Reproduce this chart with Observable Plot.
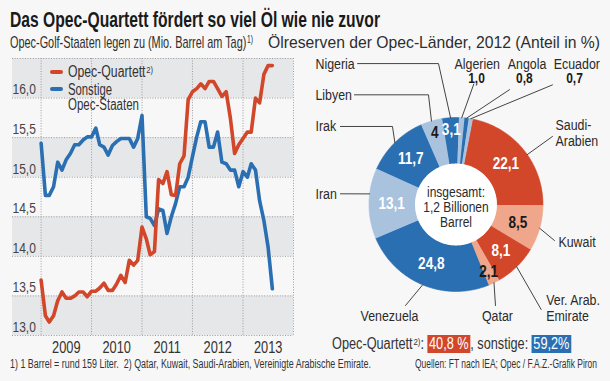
<!DOCTYPE html>
<html><head><meta charset="utf-8">
<script src="https://cdn.jsdelivr.net/npm/d3@7"></script>
<script src="https://cdn.jsdelivr.net/npm/@observablehq/plot@0.6"></script>
<style>
html,body{margin:0;padding:0;background:#f7f7f7;}
#wrap{position:relative;width:610px;height:381px;overflow:hidden;background:#f7f7f7;color:#222;
 font-family:"Liberation Sans",Arial,sans-serif;}
.t{position:absolute;white-space:nowrap;transform-origin:0 50%;line-height:1;}
.t sup{font-size:62%;vertical-align:0;position:relative;top:-0.45em;margin-left:1px;}
#lineChart{position:absolute;left:0;top:50px;}
#donut{position:absolute;left:300px;top:55px;}
.sw{position:absolute;height:4px;border-radius:2px;width:13px;}
.box{display:inline-block;color:#fff;padding:1px 2px 1px 2px;line-height:1;}
</style></head>
<body><div id="wrap">
<div class="t" id="title" data-w="370" style="left:10px;top:9px;font-size:22px;font-weight:bold;color:#1a1a1a">Das Opec-Quartett fördert so viel Öl wie nie zuvor</div>
<div class="t" data-w="243" style="left:10px;top:34px;font-size:17px;color:#2e2e2e">Opec-Golf-Staaten legen zu (Mio. Barrel am Tag)<sup>1)</sup></div>
<div class="t" data-w="332" style="left:268px;top:34px;font-size:17px;color:#2e2e2e">Ölreserven der Opec-Länder, 2012 (Anteil in %)</div>
<div id="lineChart"></div>
<div id="donut"></div>
<div class="sw" id="swRed" style="left:50px;top:70px;"></div>
<div class="sw" id="swBlue" style="left:50px;top:87px;"></div>
<div class="t" id="lgRed" data-w="85" style="left:68px;top:64px;font-size:16px;color:#333"></div>
<div class="t" id="lgBlue1" data-w="44" style="left:68px;top:82px;font-size:16px;color:#333"></div>
<div class="t" id="lgBlue2" data-w="71" style="left:68px;top:97px;font-size:16px;color:#333"></div>
<div class="t" id="shareLegend" data-w="239" style="left:332px;top:335px;font-size:16px;color:#333"></div>
<div class="t" data-w="361" style="left:10px;top:358px;font-size:12.5px;color:#333">1) 1 Barrel = rund 159 Liter.&nbsp; 2) Qatar, Kuwait, Saudi-Arabien, Vereinigte Arabische Emirate.</div>
<div class="t" data-w="182" style="left:415px;top:358px;font-size:12.5px;color:#333">Quellen: FT nach IEA; Opec / F.A.Z.-Grafik Piron</div>
</div>
<script>
// ---------------- DATA: line chart (monthly, Jan 2009 – Aug 2013, Mio. Barrel/Tag) ----------------
const firstMonth = "2009-01";
const years = [2009, 2010, 2011, 2012, 2013];
const yTicks = [13.0, 13.5, 14.0, 14.5, 15.0, 15.5, 16.0];
const seriesNames = ["Opec-Quartett", "Sonstige Opec-Staaten"];
const opecQuartett = [
  13.70, 13.25, 13.17, 13.25, 13.44, 13.55, 13.47, 13.47, 13.50, 13.55, 13.55, 13.49,
  13.56, 13.56, 13.60, 13.66, 13.57, 13.57, 13.65, 13.76, 13.67, 13.95, 13.89, 13.95,
  14.37, 14.22, 14.02, 14.06, 14.97, 14.92, 15.07, 14.78, 14.77, 15.17, 15.27, 15.98,
  16.08, 16.12, 16.18, 16.12, 16.21, 16.21, 16.12, 16.02, 16.08, 15.75, 15.30, 15.41,
  15.49, 15.57, 15.57, 16.00, 15.94, 16.30, 16.41, 16.41
];
const sonstigeOpec = [
  15.43, 14.77, 14.77, 14.88, 15.19, 15.09, 15.22, 15.30, 15.41, 15.41, 15.47, 15.51,
  15.51, 15.62, 15.41, 15.38, 15.28, 15.40, 15.45, 15.49, 15.49, 15.49, 15.38, 15.49,
  15.78, 14.50, 14.48, 14.39, 14.60, 14.58, 14.29, 14.50, 14.67, 14.88, 14.88, 15.00,
  15.26, 15.51, 15.70, 15.70, 15.38, 15.38, 15.57, 15.19, 15.17, 15.09, 15.09, 14.88,
  15.07, 15.00, 15.17, 15.09, 14.70, 14.45, 14.12, 13.59
];

// ---------------- DATA: donut (Ölreserven 2012, Anteil in %) ----------------
const countries = ["Saudi-Arabien", "Kuwait", "Ver. Arab. Emirate", "Qatar", "Venezuela", "Iran",
                   "Irak", "Libyen", "Nigeria", "Algerien", "Angola", "Ecuador"];
const shares = [22.1, 8.5, 8.1, 2.1, 24.8, 13.1, 11.7, 4.0, 3.1, 1.0, 0.8, 0.7];
const shareLabels = ["22,1", "8,5", "8,1", "2,1", "24,8", "13,1", "11,7", "4", "3,1", "1,0", "0,8", "0,7"];
const groupTotals = ["40,8 %", "59,2%"];
const groupNames = ["Opec-Quartett", "sonstige"];
const totalText = ["insgesamt:", "1,2 Billionen", "Barrel"];

// ---------------- STYLE / LAYOUT ----------------
const FONT = '"Liberation Sans",Arial,sans-serif';
const SQUEEZE = 0.8;   // condensed look for SVG texts
const COL = {red: "#d2462a", blue: "#2b6fb3", salmon: "#efa68b", light: "#a9c2de", grid: "#9c9c9c", band: "#e6e7e9"};
const sliceColors = [COL.red, COL.salmon, COL.red, COL.salmon, COL.blue, COL.light,
                     COL.blue, COL.light, COL.blue, COL.light, COL.blue, COL.light];
const darkText = [false, true, false, true, false, false, false, true, false, true, true, true];

// legend texts
document.getElementById("swRed").style.background = COL.red;
document.getElementById("swBlue").style.background = COL.blue;
document.getElementById("lgRed").innerHTML = seriesNames[0] + "<sup>2)</sup>";
const bl = seriesNames[1].split(" ");
document.getElementById("lgBlue1").textContent = bl[0];
document.getElementById("lgBlue2").textContent = bl.slice(1).join(" ");
document.getElementById("shareLegend").innerHTML =
  groupNames[0] + "<sup>2)</sup>: <span class='box' style='background:" + COL.red + "'>" + groupTotals[0] +
  "</span>, " + groupNames[1] + ": <span class='box' style='background:" + COL.blue + "'>" + groupTotals[1] + "</span>";

// ---------------- LINE CHART ----------------
const start = new Date(firstMonth + "-01T00:00:00Z");
const lineData = [
  ...sonstigeOpec.map((v, i) => ({date: d3.utcMonth.offset(start, i), value: v, series: seriesNames[1]})),
  ...opecQuartett.map((v, i) => ({date: d3.utcMonth.offset(start, i), value: v, series: seriesNames[0]}))
];
const xDomain = [new Date(Date.UTC(2008, 5, 8)), new Date(Date.UTC(2014, 0, 1))];
const bands = [[13, 13.5], [14, 14.5], [15, 15.5], [16, 16.5]];
const yearBounds = d3.range(years[0], years[years.length - 1] + 2).map(y => new Date(Date.UTC(y, 0, 1)));
const fmt = v => v.toFixed(1).replace(".", ",");

const lineChart = Plot.plot({
  width: 300, height: 310, marginLeft: 12, marginRight: 7, marginTop: 8, marginBottom: 25,
  style: {background: "transparent", fontFamily: FONT, fontSize: "14px", color: "#3a3a3a", overflow: "visible"},
  x: {type: "utc", domain: xDomain, axis: null},
  y: {domain: [13, 16.5], axis: null},
  color: {domain: seriesNames, range: [COL.red, COL.blue]},
  marks: [
    Plot.rect(bands, {x1: () => xDomain[0], x2: () => xDomain[1], y1: d => d[0], y2: d => d[1], fill: COL.band}),
    Plot.ruleY([...yTicks, 16.5], {stroke: COL.grid, strokeWidth: 1, strokeDasharray: "1,1.6"}),
    Plot.ruleX(yearBounds, {stroke: COL.grid, strokeWidth: 1, strokeDasharray: "1,1.6"}),
    Plot.text(yTicks, {y: d => d, frameAnchor: "left", lineAnchor: "middle", text: fmt, textAnchor: "start",
                       dy: -8.5, fill: "#444", fontSize: 15}),
    Plot.line(lineData, {x: "date", y: "value", z: "series", stroke: "series", strokeWidth: 3.6,
                         strokeLinejoin: "round", strokeLinecap: "round"}),
    Plot.text(years, {x: y => new Date(Date.UTC(y, 6, 2)), frameAnchor: "bottom", lineAnchor: "middle", dy: 12,
                      text: d => String(d), fontSize: 16, fill: "#333"})
  ]
});
document.getElementById("lineChart").append(lineChart);

// ---------------- DONUT ----------------
const startAngle = 11;            // degrees, clockwise from 12 o'clock
const R_IN = 0.47, R_OUT = 1;
let acc = startAngle;
const slices = countries.map((c, i) => {
  const a0 = acc; acc += shares[i] * 3.6;
  return {i, country: c, share: shares[i], label: shareLabels[i], a0, a1: acc, mid: (a0 + acc) / 2,
          color: sliceColors[i], dark: darkText[i]};
});
const rad = d => d * Math.PI / 180;
const polar = (r, deg) => ({x: r * Math.sin(rad(deg)), y: r * Math.cos(rad(deg))});
const ring = slices.flatMap(s => {
  const n = Math.max(2, Math.ceil(s.a1 - s.a0)), pts = [];
  for (let k = 0; k <= n; k++) pts.push({...polar(R_OUT, s.a0 + (s.a1 - s.a0) * k / n), country: s.country, color: s.color});
  for (let k = n; k >= 0; k--) pts.push({...polar(R_IN, s.a0 + (s.a1 - s.a0) * k / n), country: s.country, color: s.color});
  return pts;
});
const hole = d3.range(0, 361, 3).map(a => polar(R_IN, a));

// label placement (donut units: 1 = outer radius)
const labelLayout = {
  "Nigeria":            {at: [[-1.615, 1.620]], anchor: "start", leader: [[-1.132, 1.620], [-0.201, 1.620]]},
  "Libyen":             {at: [[-1.615, 1.261]], anchor: "start", leader: [[-1.167, 1.261], [-0.316, 1.261]]},
  "Irak":               {at: [[-1.615, 0.897]], anchor: "start", leader: [[-1.328, 0.897], [-0.730, 0.897]]},
  "Iran":               {at: [[-1.615, 0.123]], anchor: "start", leader: [[-1.328, 0.123]], angle: 277},
  "Venezuela":          {at: [[-0.764, -1.287]], anchor: "middle", leader: [[-0.580, -1.161]]},
  "Qatar":              {at: [[0.477, -1.287]], anchor: "middle", leader: [[0.454, -1.161]]},
  "Ver. Arab. Emirate": {at: [[1.037, -1.100], [1.037, -1.287]], anchor: "start", leader: [[0.979, -1.207]]},
  "Kuwait":             {at: [[1.178, -0.433]], anchor: "start", leader: [[1.132, -0.414]]},
  "Saudi-Arabien":      {at: [[1.144, 0.910], [1.144, 0.735]], anchor: "start", leader: [[1.109, 0.782]], angle: 55},
  "Algerien":           {at: [[-0.017, 1.620]], anchor: "start", value: [0.236, 1.452], leader: [[0.205, 1.385]]},
  "Angola":             {at: [[0.595, 1.620]], anchor: "start", value: [0.787, 1.452], leader: [[0.615, 1.320]]},
  "Ecuador":            {at: [[1.124, 1.620]], anchor: "start", value: [1.362, 1.452], leader: [[1.109, 1.375]]}
};
const splitName = n => n.replace("Saudi-", "Saudi-\n").replace("Arab. ", "Arab.\n").split("\n");
const nameTexts = slices.flatMap(s => {
  const L = labelLayout[s.country];
  return splitName(s.country).map((t, j) => ({t, x: L.at[j][0], y: L.at[j][1], anchor: L.anchor}));
});
const leaders = slices.flatMap(s => {
  const L = labelLayout[s.country];
  const end = polar(R_OUT, L.angle ?? s.mid);
  return [...L.leader.map(p => ({x: p[0], y: p[1], country: s.country})), {x: end.x, y: end.y, country: s.country}];
});
const outsideValues = slices.filter(s => labelLayout[s.country].value)
  .map(s => ({t: s.label, x: labelLayout[s.country].value[0], y: labelLayout[s.country].value[1]}));
const insideValues = slices.filter(s => !labelLayout[s.country].value).map(s => {
  const p = polar(s.share < 5 ? 0.86 : 0.74, s.mid);
  return {t: s.label, x: p.x, y: p.y, dark: s.dark};
});
const anchors = ["start", "middle"];

const donut = Plot.plot({
  width: 310, height: 290, margin: 0,
  x: {domain: [-1.787, 1.776], axis: null},
  y: {domain: [-1.621, 1.713], axis: null},
  color: {type: "identity"},
  style: {background: "transparent", fontFamily: FONT, fontSize: "15px", color: "#222", overflow: "visible"},
  marks: [
    Plot.line(ring, {x: "x", y: "y", z: "country", fill: "color", stroke: "color", strokeWidth: 0.6, curve: "linear"}),
    Plot.line(hole, {x: "x", y: "y", fill: "white", stroke: "none"}),
    Plot.line(leaders, {x: "x", y: "y", z: "country", stroke: "#444", strokeWidth: 1, curve: "linear"}),
    ...anchors.map(a => Plot.text(nameTexts.filter(d => d.anchor === a), {x: "x", y: "y", text: "t", textAnchor: a, fill: "#2a2a2a", fontSize: 15.5})),
    Plot.text(outsideValues, {x: "x", y: "y", text: "t", fontWeight: "bold", fill: "#1a1a1a", fontSize: 15}),
    Plot.text(insideValues, {x: "x", y: "y", text: "t", fontWeight: "bold", fontSize: 17,
                             fill: d => d.dark ? "#1a1a1a" : "#ffffff"}),
    Plot.text(totalText, {x: () => 0, y: (d, i) => 0.144 - i * 0.173, text: d => d, fontSize: 15, fill: "#2a2a2a"})
  ]
});
document.getElementById("donut").append(donut);

// condensed look: squeeze SVG texts horizontally around their own anchor point
function squeeze(svg, f) {
  svg.querySelectorAll("text").forEach(t => {
    const x = parseFloat(t.getAttribute("x"));
    const x0 = (t.getAttribute("x") || "").match(/^-?[\d.]+$/) ? x : 0;
    const tr = t.getAttribute("transform") || "";
    t.setAttribute("transform", `${tr} translate(${x0},0) scale(${f},1) translate(${-x0},0)`.trim());
  });
}
squeeze(lineChart, SQUEEZE);
squeeze(donut, SQUEEZE);

// fit HTML text lines to their measured widths in the reference
document.querySelectorAll("[data-w]").forEach(el => {
  const w = el.getBoundingClientRect().width;
  el.style.transform = "scaleX(" + (+el.dataset.w / w) + ")";
});
</script>
</body></html>
